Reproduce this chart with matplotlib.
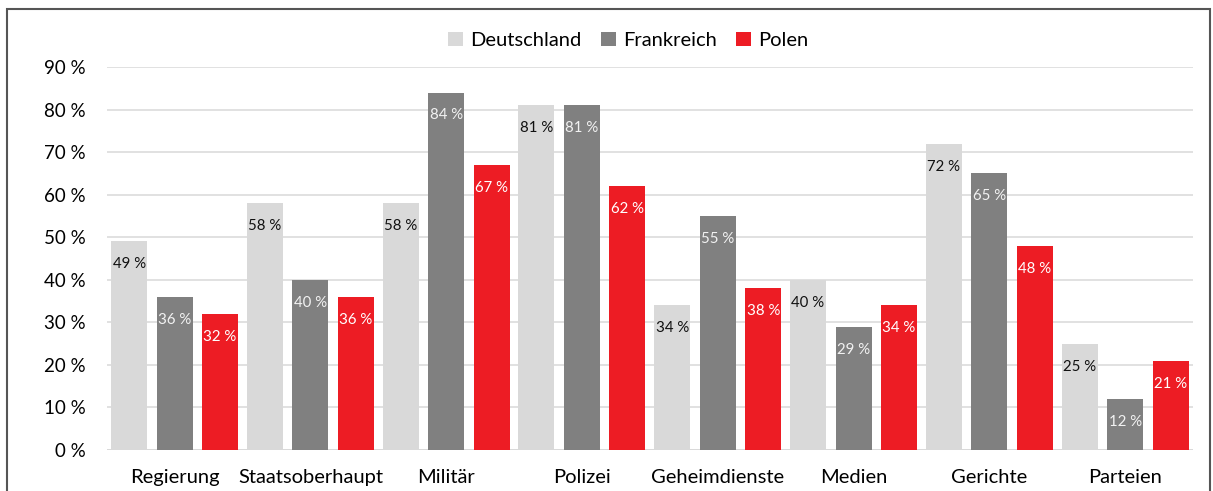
import numpy as np
import matplotlib.pyplot as plt
from matplotlib.patches import Rectangle

plt.rcParams['font.family'] = ['Lato', 'DejaVu Sans']

# Data
categories = ["Regierung", "Staatsoberhaupt", "Militär", "Polizei",
              "Geheimdienste", "Medien", "Gerichte", "Parteien"]
deutschland = [49, 58, 58, 81, 34, 40, 72, 25]
frankreich = [36, 40, 84, 81, 55, 29, 65, 12]
polen = [32, 36, 67, 62, 38, 34, 48, 21]
series_names = ["Deutschland", "Frankreich", "Polen"]

colors = ["#d9d9d9", "#808080", "#ed1c24"]
label_colors = ["#111111", "#f2f2f2", "#ffffff"]

fig = plt.figure(figsize=(12.13, 4.91), dpi=100)
ax = fig.add_axes([0.088, 0.0835, 0.8955, 0.78])

x = np.arange(len(categories))
offsets = [-0.335, 0.0, 0.335]
width = 0.265

for vals, name, off, c, lc in zip([deutschland, frankreich, polen], series_names,
                                  offsets, colors, label_colors):
    bars = ax.bar(x + off, vals, width, color=c, label=name, zorder=3)
    for b, v in zip(bars, vals):
        ax.annotate(f"{v} %", (b.get_x() + b.get_width() / 2, v),
                    xytext=(0, -16.5), textcoords="offset points",
                    ha="center", va="center", fontsize=10.8, color=lc, zorder=4)

ax.set_xlim(-0.5, len(categories) - 0.5)
ax.set_ylim(0, 90)
ax.set_yticks(np.arange(0, 91, 10))
ax.set_yticklabels([f"{t} %" for t in range(0, 91, 10)], fontsize=13.5)
ax.set_xticks(x)
ax.set_xticklabels(categories, fontsize=14.5)
ax.tick_params(length=0)
ax.tick_params(axis="y", pad=15)
ax.tick_params(axis="x", pad=14)
ax.yaxis.grid(True, color="#dcdcdc", linewidth=1.2, zorder=0)
ax.axhline(0, color="#d9d9d9", linewidth=2, zorder=2)
for s in ax.spines.values():
    s.set_visible(False)

leg = fig.legend(loc="center", bbox_to_anchor=(0.518, 0.918), ncol=3, frameon=False,
                 fontsize=14.5, handlelength=0.75, handleheight=0.75,
                 handletextpad=0.35, columnspacing=0.95)

# outer frame
fig.patches.append(Rectangle((7 / 1213, -0.02), 1203 / 1213, 1 - 9 / 491 + 0.02,
                             transform=fig.transFigure, fill=False,
                             edgecolor="#555555", linewidth=1.5))

fig.savefig("out.png", dpi=100)
